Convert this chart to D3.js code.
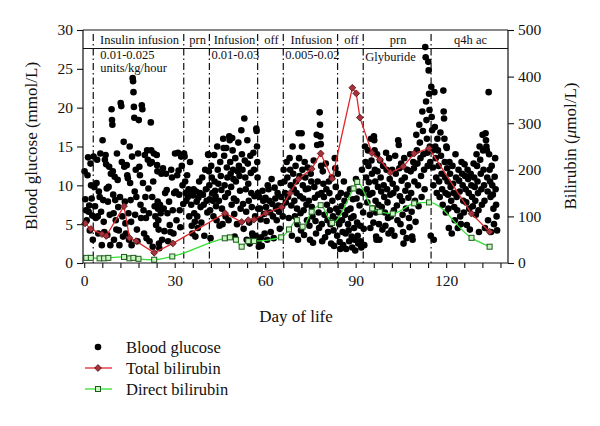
<!DOCTYPE html>
<html><head><meta charset="utf-8">
<script src="https://cdn.jsdelivr.net/npm/d3@7"></script>
<style>
body{margin:0;background:#fff;}
text{font-family:"Liberation Serif","DejaVu Serif",serif;fill:#111;}
</style></head>
<body><svg id="c" width="600" height="426"></svg>
<script>
// Blood glucose readings (mmol/L), listed per day of life
const glucoseDays = [];
const glucoseValues = [
[11.8,8.2,6.8,5.5],[11.3,13.6,6.6,7.4,4.2],[12.8,10.0,8.3,6.1,3.0],[13.7,9.8,7.3,5.8],
[10.3,13.3,6.0,3.8,9.2],[8.5,14.1,6.6,2.3],[15.8,8.1,5.3,4.0,13.3],[13.9,12.7,9.6,3.6,7.9],
[9.8,12.4,6.2,2.3,11.5],[19.8,18.4,17.8,11.8,8.8,6.4,3.0],[11.1,8.1,5.5,4.3,14.1],[10.7,7.2,4.2,2.3,8.5],
[20.6,20.2,13.0,6.0,3.4],[15.6,12.4,7.9,5.1,3.8],[12.6,11.3,10.9,6.4,3.0],[15.0,10.3,8.1,5.3,2.3,13.7],
[23.8,23.4,22.0,20.1,18.7,9.2,6.2],[12.0,8.5,4.3,2.8,14.1],[18.4,12.4,11.3,7.5,5.8],[20.3,19.8,10.3,6.8,3.8],
[13.9,8.5,5.8,3.2,14.5],[13.3,9.6,6.4,2.8,12.8],[18.1,14.5,13.0,8.5,2.1,10.5],[14.1,7.3,6.0,4.9],
[13.9,12.6,11.8,7.9,7.0,5.5,4.3,2.5,1.9],[7.5,6.4,11.5,3.0],[12.2,7.0,4.1,9.0],[11.5,9.4,6.4,2.8],
[7.9,4.9,4.0,12.0],[11.0,6.8,3.8,9.0],[14.1,9.2,5.5,11.3],[14.2,11.9,8.8,6.8,4.6],
[13.7,12.5,10.0,7.6],[14.1,13.7,10.5,9.0,8.0],[11.3,8.5,9.5,6.0],[13.0,9.0,7.5,4.8,3.8],
[8.7,9.5,6.4,5.3,3.4],[9.2,7.9,6.0,4.5,8.4],[10.5,9.0,7.2,5.2],[11.0,8.8,7.5,3.5],
[12.0,9.5,8.0,6.5],[14.0,13.9,11.8,10.0,8.2,6.8,3.2],[12.5,11.0,9.0,8.0,6.0],[13.9,10.5,9.3,8.6,7.3,5.5],
[15.0,12.0,10.2,8.0,4.8],[13.0,11.2,9.4,7.0,5.0],[16.0,14.8,13.8,10.0,8.5,6.0],[14.8,12.3,11.0,9.0,5.5],
[16.3,15.8,13.0,11.5,9.8,7.5],[16.1,14.5,12.0,10.8,8.3,6.3,3.4],[13.5,10.5,8.0,5.0,11.8],[15.5,12.5,11.2,9.3,7.0],
[17.1,14.0,12.0,7.6,4.4],[18.6,13.2,11.0,9.5,6.6,3.0],[15.8,12.8,10.2,8.0,5.2,2.5],[13.8,11.6,9.0,7.2,3.8,3.4],
[14.2,12.0,8.6,6.0,3.5],[17.3,17.0,15.0,13.0,11.0,9.0,7.0,2.7,2.1],[8.5,7.0,5.6,3.3,2.2],[9.3,8.0,6.3,3.8],
[8.4,7.2,5.4,3.0,10.0],[9.5,8.0,6.5,4.0],[10.8,7.6,6.0,3.2],[9.7,8.3,7.0,5.5],
[9.0,7.4,6.6,4.4],[10.3,8.5,7.3,6.0],[12.0,10.5,9.0,7.8],[13.0,11.0,8.5,5.8],
[13.5,12.0,10.0,7.4,3.5],[15.0,11.5,9.5,8.0,6.0],[12.5,10.5,9.0,7.0,5.0,3.0],[16.7,13.5,11.2,8.6,6.4,4.2],
[16.7,15.0,12.0,10.0,8.3,6.8,3.6],[13.0,11.0,9.5,7.5,5.5],[12.3,9.6,8.0,4.8,3.0],[11.5,10.5,7.2,6.0,2.6],
[13.2,9.8,8.4,5.4,3.8],[16.5,15.2,10.5,8.8,6.5,4.5],[19.4,17.8,16.3,15.3,12.5,9.0,5.0,2.8],[11.8,10.2,8.5,6.2,3.3],
[12.8,9.5,7.5,5.5,4.0],[10.5,9.0,6.8,5.0,2.5],[11.0,8.0,6.0,4.2,2.2],[13.5,12.2,9.8,7.0,5.6,3.5],
[11.5,8.5,6.5,5.0,2.7,1.8],[9.0,7.3,5.5,4.0,2.3],[10.5,8.0,6.2,3.8,1.8],[8.8,6.8,5.0,4.2,2.8],
[9.5,7.0,5.8,3.4,2.0],[8.2,6.0,4.5,3.0,1.6],[10.8,8.3,5.2,3.5,2.5],[9.2,7.4,4.8,2.8,2.0],
[12.0,9.0,6.5,4.4,2.3],[15.0,13.0,11.0,9.5,7.8],[14.5,12.5,10.4,8.8,6.2,4.5],[16.0,13.2,11.5,9.0,7.0,5.2],
[16.3,15.8,14.5,12.0,10.5,8.0,6.5,3.4,3.0],[14.0,11.8,9.8,7.5,5.0,3.0],[13.2,11.0,9.2,7.2,4.3],[12.5,10.0,8.5,6.5,4.8],
[14.2,12.0,9.5,7.8,5.8,3.8],[13.5,10.8,8.8,6.0,4.2],[12.0,10.2,9.0,6.8,3.5],[13.8,11.5,9.6,7.4,5.5],
[15.8,15.2,12.2,8.6,5.0],[12.8,10.6,8.0,6.2,4.0,2.5],[13.5,11.0,9.3,7.0,3.2],[12.0,10.0,8.4,5.8,4.6],
[14.0,11.8,9.0,6.6,3.4,3.0],[13.0,12.2,10.5,8.0,5.3],[16.5,14.5,12.8,10.0,7.3],[17.8,15.5,13.5,11.2,8.5],
[19.5,17.0,14.0,12.0,9.5],[27.8,26.5,20.8,18.4,16.0,14.2,12.5],[25.9,24.8,21.8,19.7,15.0,13.0,3.5],[22.7,18.8,17.1,14.5,12.3,10.0,3.0],
[22.0,17.5,15.0,13.5,11.0,9.0],[16.0,14.5,12.5,10.5,8.5],[16.8,13.8,11.5,9.5,7.5],[22.2,19.5,18.6,16.0,13.0,11.0,9.0,6.5],
[15.0,14.8,12.2,10.5,8.8,7.0,4.5],[13.0,11.5,9.8,8.0,3.8],[12.5,10.2,9.0,7.2,5.5],[14.0,11.0,8.5,6.8,4.5],
[12.0,10.6,9.2,6.0,5.0],[13.0,11.5,10.0,8.0,6.5],[12.7,11.2,9.5,7.8,4.9],[12.0,10.8,9.0,7.0,4.3],
[11.5,10.0,8.5,7.3],[12.8,11.0,9.8,8.0,6.2],[14.0,12.5,10.5,9.0,6.8,4.0],[15.0,13.3,11.5,9.5,7.5],
[16.5,14.5,12.0,10.0,8.0,4.5],[16.7,15.8,15.0,14.5,11.0,9.2,5.5],[22.0,14.0,12.0,10.5,8.5,4.0],[12.5,10.0,8.8,7.0,5.0],
[11.1,13.5,9.5,7.5,6.0,4.2]
];
glucoseValues.forEach((v,i)=>glucoseDays.push(i));

// Total bilirubin (µmol/L)
const totalDays = [0.3,2.2,5.9,7.3,13.2,15,17.2,23.2,29.4,46.7,52.2,54.4,56.3,60.2,65.5,68.2,71,75.4,78.4,82.2,88.9,90.2,91.4,95.4,98,101.5,105.8,109.4,114.3,128.4,134.4];
const totalValues = [85,73,62,58,122,54,47,22,42,107,88,92,93,107,120,150,180,202,235,181,376,364,312,236,222,194,207,235,246,106,67];
// Direct bilirubin (µmol/L)
const directDays = [0.7,2.2,5.1,6.6,8,13.2,15,16.3,18,23.2,29.2,46.6,48.3,50.3,52.2,54.4,56.3,65.3,67.9,70.5,72.4,75.4,78.4,82.2,89.3,90.5,95.5,98,102.3,109.4,114.3,128.4,134.4];
const directValues = [11,11,10,10,11,13,10,11,9,7,14,53,55,50,35,47,47,55,72,92,78,110,124,86,160,174,117,110,106,128,130,54,35];

// Treatment phases
const phaseBounds = [3,33,41.5,57.5,66,84,92.5,115];
const phaseLabels = ["Insulin infusion","prn","Infusion","off","Infusion","off","prn","q4h ac"];
const doseNotes = [["0.01-0.025",3],["units/kg/hour",3],["0.01-0.03",41.5],["0.005-0.02",66],["Glyburide",92.5]];

const leftTicks = [0,5,10,15,20,25,30];
const rightTicks = [0,100,200,300,400,500];
const xLabelTicks = [0,30,60,90,120];

const svg = d3.select("#c");
const L=83, R=508, T=30, B=263;
const x = d3.scaleLinear().domain([-0.4,140.5]).range([L,R]);
const yG = d3.scaleLinear().domain([0,30]).range([B,T]);
const yB = d3.scaleLinear().domain([0,500]).range([B,T]);

// phase lines
svg.append("g").selectAll("line").data(phaseBounds).join("line")
  .attr("x1",d=>x(d)).attr("x2",d=>x(d)).attr("y1",T+4).attr("y2",B)
  .attr("stroke","#111").attr("stroke-width",1.2).attr("stroke-dasharray","7,3,1.5,3");

// band
svg.append("line").attr("x1",L).attr("x2",R).attr("y1",48.5).attr("y2",48.5).attr("stroke","#111").attr("stroke-width",1.2);
const bEdges=[-0.4].concat(phaseBounds,[140.5]);
svg.append("g").selectAll("text").data(phaseLabels).join("text")
  .attr("x",(d,i)=>{const a=i+1,b=i+2;return (x(bEdges[a])+x(bEdges[b]))/2+1;})
  .attr("y",44).attr("text-anchor","middle").attr("font-size",12.5).text(d=>d);
svg.append("g").selectAll("text").data(doseNotes).join("text")
  .attr("x",(d,i)=>x(d[1])+ (i<2?7:2)).attr("y",(d,i)=>i===1?71.5:(i===4?61:58.5))
  .attr("font-size",12.5).text(d=>d[0]);

// glucose dots
const pts=[];
glucoseValues.forEach((vals,i)=>vals.forEach((v,j)=>pts.push([glucoseDays[i]+(j+0.5)/vals.length*0.95,v])));
svg.append("g").selectAll("circle").data(pts).join("circle")
  .attr("cx",d=>x(d[0])).attr("cy",d=>yG(d[1])).attr("r",3.3).attr("fill","#000");

// total bilirubin
const tot=totalDays.map((d,i)=>[d,totalValues[i]]);
svg.append("path").datum(tot).attr("fill","none").attr("stroke","#e0282c").attr("stroke-width",1.3)
  .attr("d",d3.line().x(d=>x(d[0])).y(d=>yB(d[1])));
const diamond=d3.symbol().type(d3.symbolDiamond2).size(30);
svg.append("g").selectAll("path").data(tot).join("path")
  .attr("transform",d=>`translate(${x(d[0])},${yB(d[1])})`).attr("d",diamond)
  .attr("fill","#a8323c").attr("stroke","#4a0f12").attr("stroke-width",0.8);

// direct bilirubin
const dir=directDays.map((d,i)=>[d,directValues[i]]);
svg.append("path").datum(dir).attr("fill","none").attr("stroke","#33e033").attr("stroke-width",1.3)
  .attr("d",d3.line().curve(d3.curveMonotoneX).x(d=>x(d[0])).y(d=>yB(d[1])));
svg.append("g").selectAll("rect").data(dir).join("rect")
  .attr("x",d=>x(d[0])-2.5).attr("y",d=>yB(d[1])-2.5).attr("width",5).attr("height",5)
  .attr("fill","#c8f5c0").attr("stroke","#1d5a1d").attr("stroke-width",1);

// frame
svg.append("line").attr("x1",L).attr("x2",R).attr("y1",T).attr("y2",T).attr("stroke","#111").attr("stroke-width",1.2);

// axes
const ax=svg.append("g").attr("transform",`translate(${L},0)`).call(d3.axisLeft(yG).tickValues(leftTicks).tickSize(6).tickPadding(4));
const ar=svg.append("g").attr("transform",`translate(${R},0)`).call(d3.axisRight(yB).tickValues(rightTicks).tickSize(6).tickPadding(4));
const ab=svg.append("g").attr("transform",`translate(0,${B})`).call(d3.axisBottom(x).tickValues(d3.range(0,139,6)).tickSize(5).tickPadding(7)
   .tickFormat(d=>xLabelTicks.includes(d)?d:""));
[ax,ar,ab].forEach(g=>{g.select(".domain").attr("stroke","#111").attr("stroke-width",1.2);
  g.selectAll(".tick line").attr("stroke","#111").attr("stroke-width",1.1);
  g.selectAll(".tick text").attr("font-family","Liberation Serif").attr("font-size",15.5).attr("fill","#111");});
ab.selectAll(".domain").attr("d",`M${L},0H${R}`);
ax.select(".domain").attr("d",`M0,${B}V${T}`);
ar.select(".domain").attr("d",`M0,${B}V${T}`);

// axis titles
svg.append("text").attr("transform","translate(37,146) rotate(-90)").attr("text-anchor","middle").attr("font-size",17).text("Blood glucose (mmol/L)");
const rt=svg.append("text").attr("transform","translate(576,146) rotate(-90)").attr("text-anchor","middle").attr("font-size",17);
rt.append("tspan").text("Bilirubin (");
rt.append("tspan").attr("font-style","italic").text("μ");
rt.append("tspan").text("mol/L)");
svg.append("text").attr("x",296).attr("y",322).attr("text-anchor","middle").attr("font-size",17).text("Day of life");

// legend
const lg=svg.append("g");
lg.append("circle").attr("cx",98).attr("cy",347).attr("r",3.3).attr("fill","#000");
lg.append("text").attr("x",126).attr("y",353).attr("font-size",16.5).text("Blood glucose");
lg.append("line").attr("x1",85).attr("x2",112).attr("y1",368).attr("y2",368).attr("stroke","#e0282c").attr("stroke-width",1.3);
lg.append("path").attr("transform","translate(98,368)").attr("d",diamond).attr("fill","#a8323c").attr("stroke","#4a0f12").attr("stroke-width",0.8);
lg.append("text").attr("x",126).attr("y",374).attr("font-size",16.5).text("Total bilirubin");
lg.append("line").attr("x1",85).attr("x2",112).attr("y1",389).attr("y2",389).attr("stroke","#33e033").attr("stroke-width",1.3);
lg.append("rect").attr("x",95.5).attr("y",386.5).attr("width",5).attr("height",5).attr("fill","#c8f5c0").attr("stroke","#1d5a1d");
lg.append("text").attr("x",126).attr("y",395).attr("font-size",16.5).text("Direct bilirubin");
</script></body></html>
